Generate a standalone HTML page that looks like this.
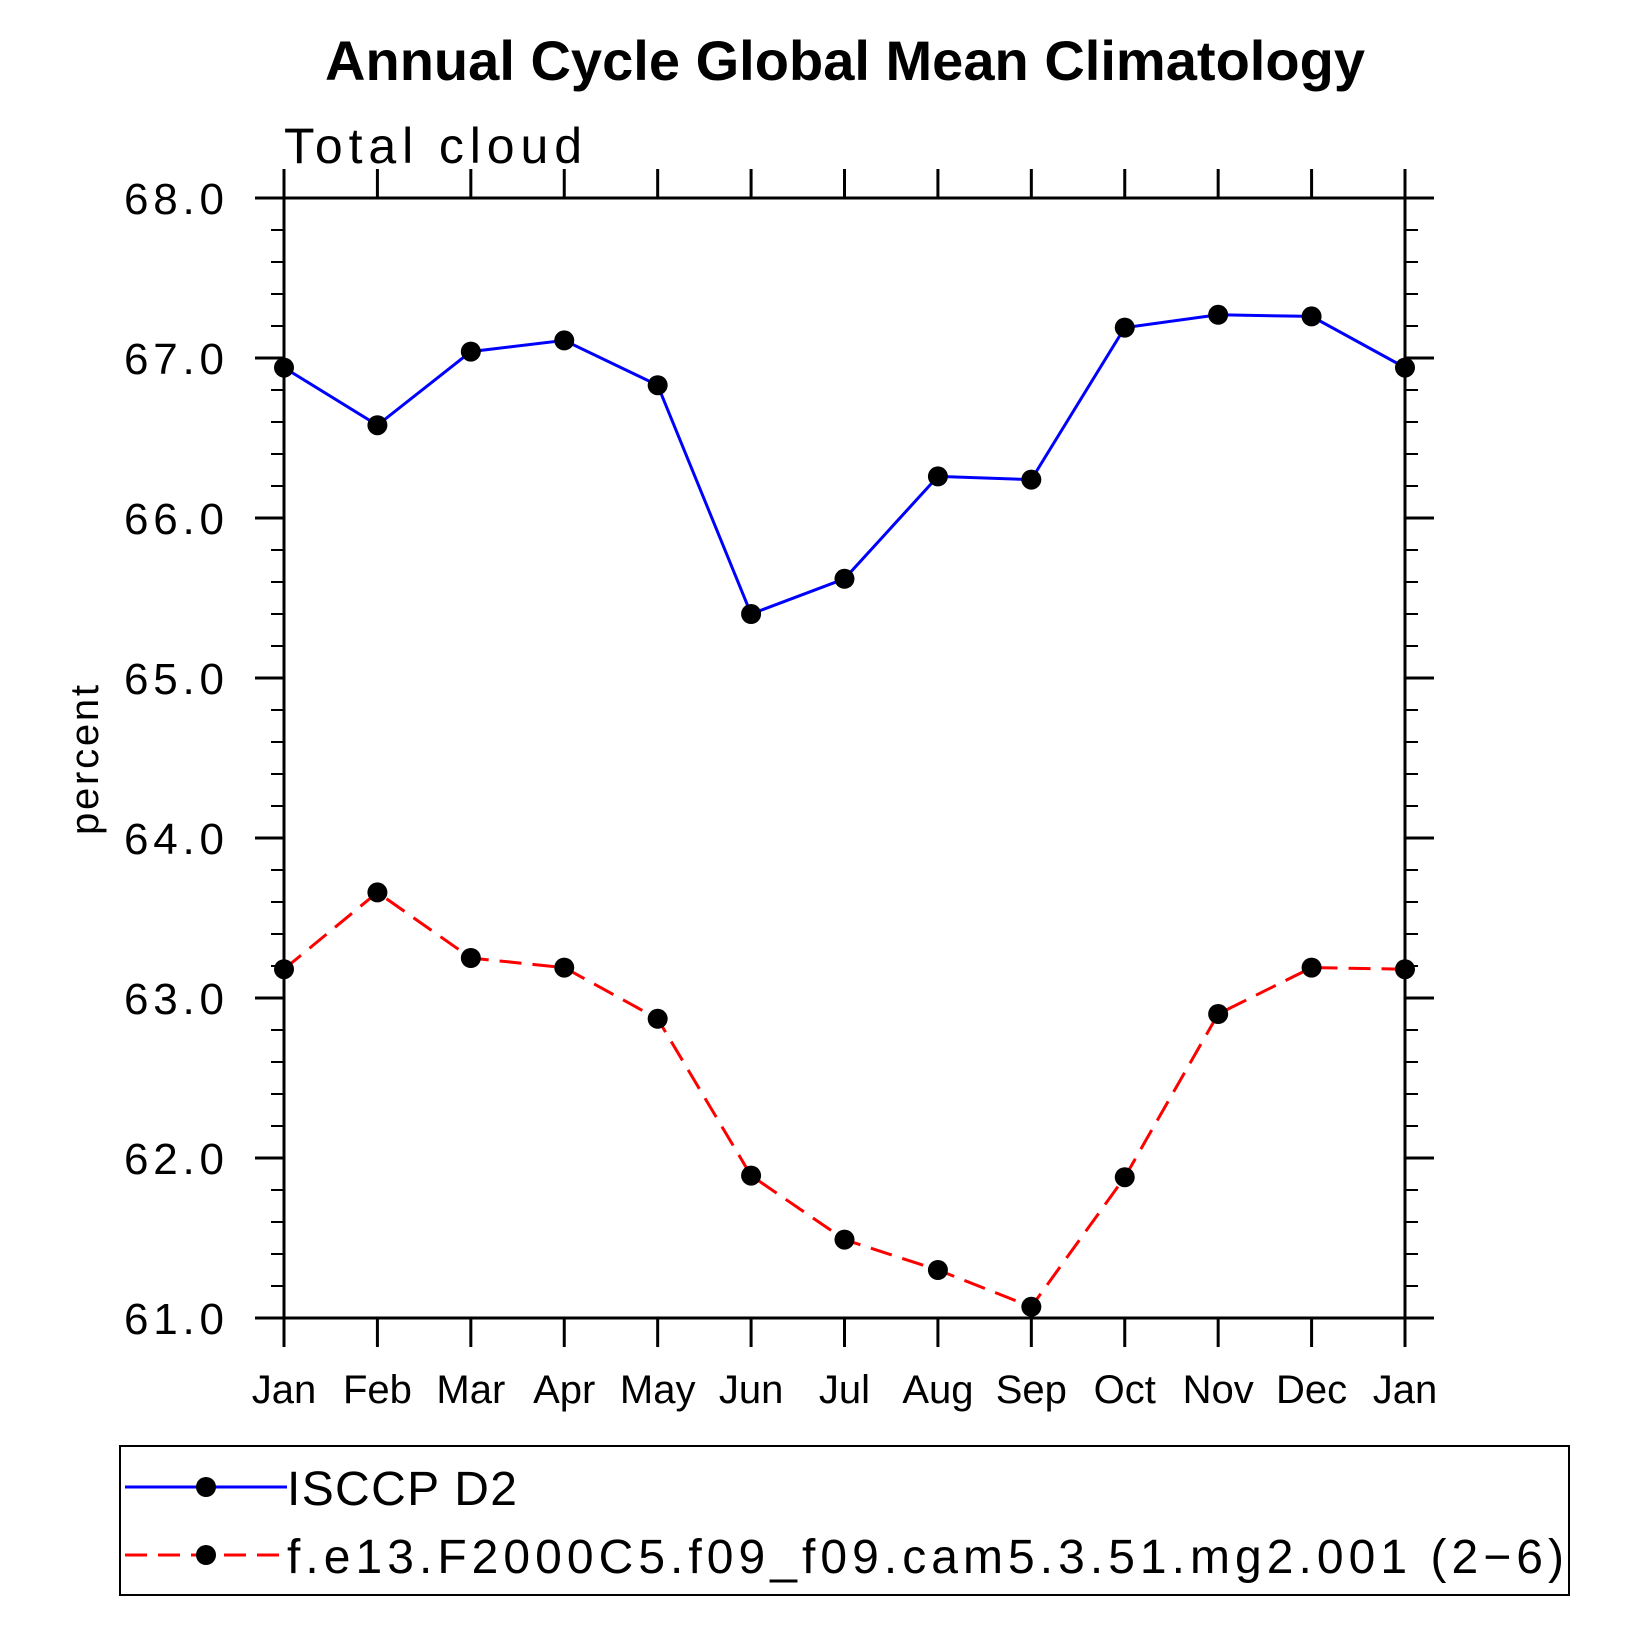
<!DOCTYPE html>
<html><head><meta charset="utf-8"><style>
html,body{margin:0;padding:0;background:#fff;}
svg text{font-family:"Liberation Sans",sans-serif;}
</style></head><body>
<svg id="chart" width="1630" height="1630" viewBox="0 0 1630 1630" xmlns="http://www.w3.org/2000/svg">
<text x="845" y="80" text-anchor="middle" font-size="56" font-weight="bold" textLength="1040">Annual Cycle Global Mean Climatology</text>
<text x="284" y="163" font-size="50" textLength="298">Total cloud</text>
<text transform="translate(98,760) rotate(-90)" text-anchor="middle" font-size="40" textLength="150">percent</text>
<g id="axes"></g>
<g id="series"></g>
<g id="legend">
<rect x="120" y="1446" width="1449" height="149" fill="none" stroke="#000" stroke-width="2"/>
<g>
<line x1="125" y1="1487" x2="287" y2="1487" stroke="#00f" stroke-width="3"/>
<circle cx="206" cy="1487" r="10" fill="#000"/>
<text x="287" y="1505" font-size="48" textLength="230">ISCCP D2</text>
</g>
<g>
<line x1="125" y1="1555" x2="287" y2="1555" stroke="#f00" stroke-width="3" stroke-dasharray="22,11"/>
<circle cx="206" cy="1555" r="10" fill="#000"/>
<text x="287" y="1573" font-size="48" textLength="1277">f.e13.F2000C5.f09_f09.cam5.3.51.mg2.001 (2−6)</text>
</g>
</g>
</svg>
<script>
const months = ["Jan","Feb","Mar","Apr","May","Jun","Jul","Aug","Sep","Oct","Nov","Dec","Jan"];
const isccp = [66.94,66.58,67.04,67.11,66.83,65.40,65.62,66.26,66.24,67.19,67.27,67.26,66.94];
const model = [63.18,63.66,63.25,63.19,62.87,61.89,61.49,61.30,61.07,61.88,62.90,63.19,63.18];
const yTicks = [61,62,63,64,65,66,67,68];
const yTickLabels = ["61.0","62.0","63.0","64.0","65.0","66.0","67.0","68.0"];

const NS="http://www.w3.org/2000/svg";
const L=284,R=1405,T=198,B=1318,YMIN=61,YMAX=68;
function xs(i){return L+(R-L)*i/(months.length-1);}
function ys(v){return B-(v-YMIN)/(YMAX-YMIN)*(B-T);}
function mk(tag,attrs,parent){const e=document.createElementNS(NS,tag);for(const k in attrs)e.setAttribute(k,attrs[k]);parent.appendChild(e);return e;}
const axes=document.getElementById('axes');
const frame=mk('rect',{x:L,y:T,width:R-L,height:B-T,fill:'none',stroke:'#000','stroke-width':3},axes);


for(let v=YMIN;v<=YMAX+1e-6;v+=0.2){
  const y=ys(v);const major=Math.abs(v-Math.round(v))<1e-6;const len=major?29:13;
  mk('line',{x1:L-len,y1:y,x2:L,y2:y,stroke:'#000','stroke-width':major?3:2},axes);
  mk('line',{x1:R,y1:y,x2:R+len,y2:y,stroke:'#000','stroke-width':major?3:2},axes);
}
yTicks.forEach((v,i)=>{
  const t=mk('text',{x:224,y:ys(v)+16,'text-anchor':'end','font-size':44,textLength:100},axes);
  t.textContent=yTickLabels[i];
  
  
});
months.forEach((m,i)=>{
  const x=xs(i);
  mk('line',{x1:x,y1:T-29,x2:x,y2:T,stroke:'#000','stroke-width':3},axes);
  mk('line',{x1:x,y1:B,x2:x,y2:B+29,stroke:'#000','stroke-width':3},axes);
  const t=mk('text',{x:x,y:1403,'text-anchor':'middle','font-size':40},axes);
  t.textContent=m;
  
  
});
const ser=document.getElementById('series');
function draw(vals,color,dash,name){
  const g=mk('g',{},ser);
  
  
  const pts=vals.map((v,i)=>xs(i)+','+ys(v)).join(' ');
  const a={points:pts,fill:'none',stroke:color,'stroke-width':3};
  if(dash)a['stroke-dasharray']=dash;
  mk('polyline',a,g);
  vals.forEach((v,i)=>{
    const c=mk('circle',{cx:xs(i),cy:ys(v),r:10,fill:'#000'},g);
    
    
  });
}
draw(isccp,'#00f',null,'series-isccp-d2');
draw(model,'#f00','22,11','series-model');
</script>
</body></html>
